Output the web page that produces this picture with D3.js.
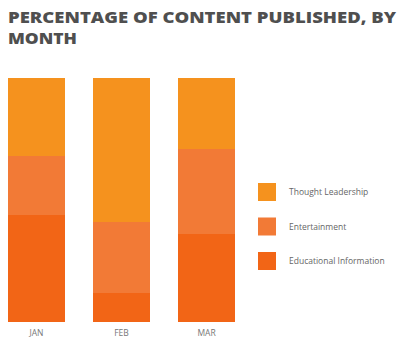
<!DOCTYPE html>
<html>
<head>
<meta charset="utf-8">
<script src="https://cdn.jsdelivr.net/npm/d3@7"></script>
<style>
  body { margin: 0; background: #fff; }
  svg { display: block; }
</style>
</head>
<body>
<script>
// data (percent of content per month)
const months = ["JAN", "FEB", "MAR"];
const seriesNames = ["Educational Information", "Entertainment", "Thought Leadership"];
const educational = [44, 12, 36];
const entertainment = [24, 29, 35];
const thought = [32, 59, 29];
const colors = ["#f26516", "#f27a36", "#f5921e"];
const legendOrder = ["Thought Leadership", "Entertainment", "Educational Information"];

const W = 400, H = 339;
const svg = d3.select("body").append("svg").attr("width", W).attr("height", H);

// title
svg.append("text")
  .attr("x", 8).attr("y", 23)
  .attr("font-family", "Open Sans, sans-serif")
  .attr("font-weight", 800)
  .attr("font-size", 16.5)
  .attr("fill", "#4f4f4f")
  .attr("textLength", 388)
  .attr("lengthAdjust", "spacingAndGlyphs")
  .text("PERCENTAGE OF CONTENT PUBLISHED, BY");
svg.append("text")
  .attr("x", 8).attr("y", 44)
  .attr("font-family", "Open Sans, sans-serif")
  .attr("font-weight", 800)
  .attr("font-size", 16.5)
  .attr("fill", "#4f4f4f")
  .attr("textLength", 69)
  .attr("lengthAdjust", "spacingAndGlyphs")
  .text("MONTH");

const rows = months.map((m, i) => ({
  month: m,
  "Educational Information": educational[i],
  "Entertainment": entertainment[i],
  "Thought Leadership": thought[i]
}));

const layers = d3.stack().keys(seriesNames)(rows);

// bars sit at ~8-65, 93-150, 178-235
const x = d3.scaleBand().domain(months).range([0, 227]).paddingInner(0.33).paddingOuter(0);
const y = d3.scaleLinear().domain([0, 100]).range([322, 78]);
const color = d3.scaleOrdinal().domain(seriesNames).range(colors);

const g = svg.append("g").attr("transform", "translate(8,0)");

g.selectAll("g.layer")
  .data(layers)
  .join("g")
  .attr("class", "layer")
  .attr("fill", d => color(d.key))
  .selectAll("rect")
  .data(d => d)
  .join("rect")
  .attr("shape-rendering", "crispEdges")
  .attr("x", d => x(d.data.month))
  .attr("width", x.bandwidth())
  .attr("y", d => y(d[1]))
  .attr("height", d => y(d[0]) - y(d[1]));

// month labels
const xAxis = g.append("g")
  .attr("transform", "translate(0,322)")
  .call(d3.axisBottom(x).tickSize(0).tickPadding(8));
xAxis.select(".domain").remove();
xAxis.selectAll("text")
  .attr("font-family", "Open Sans, sans-serif")
  .attr("font-size", 8.5)
  .attr("fill", "#777");

// legend
const legend = svg.append("g").attr("transform", "translate(258,0)");
const ly = d3.scalePoint().domain(legendOrder).range([192, 261]);
const li = legend.selectAll("g")
  .data(legendOrder)
  .join("g")
  .attr("transform", d => `translate(0,${ly(d)})`);
li.append("rect")
  .attr("x", 0).attr("y", -9)
  .attr("width", 18).attr("height", 18)
  .attr("fill", d => color(d));
li.append("text")
  .attr("x", 31).attr("y", 3)
  .attr("font-family", "Open Sans, sans-serif")
  .attr("font-size", 8.5)
  .attr("fill", "#666")
  .text(d => d);
</script>
</body>
</html>
